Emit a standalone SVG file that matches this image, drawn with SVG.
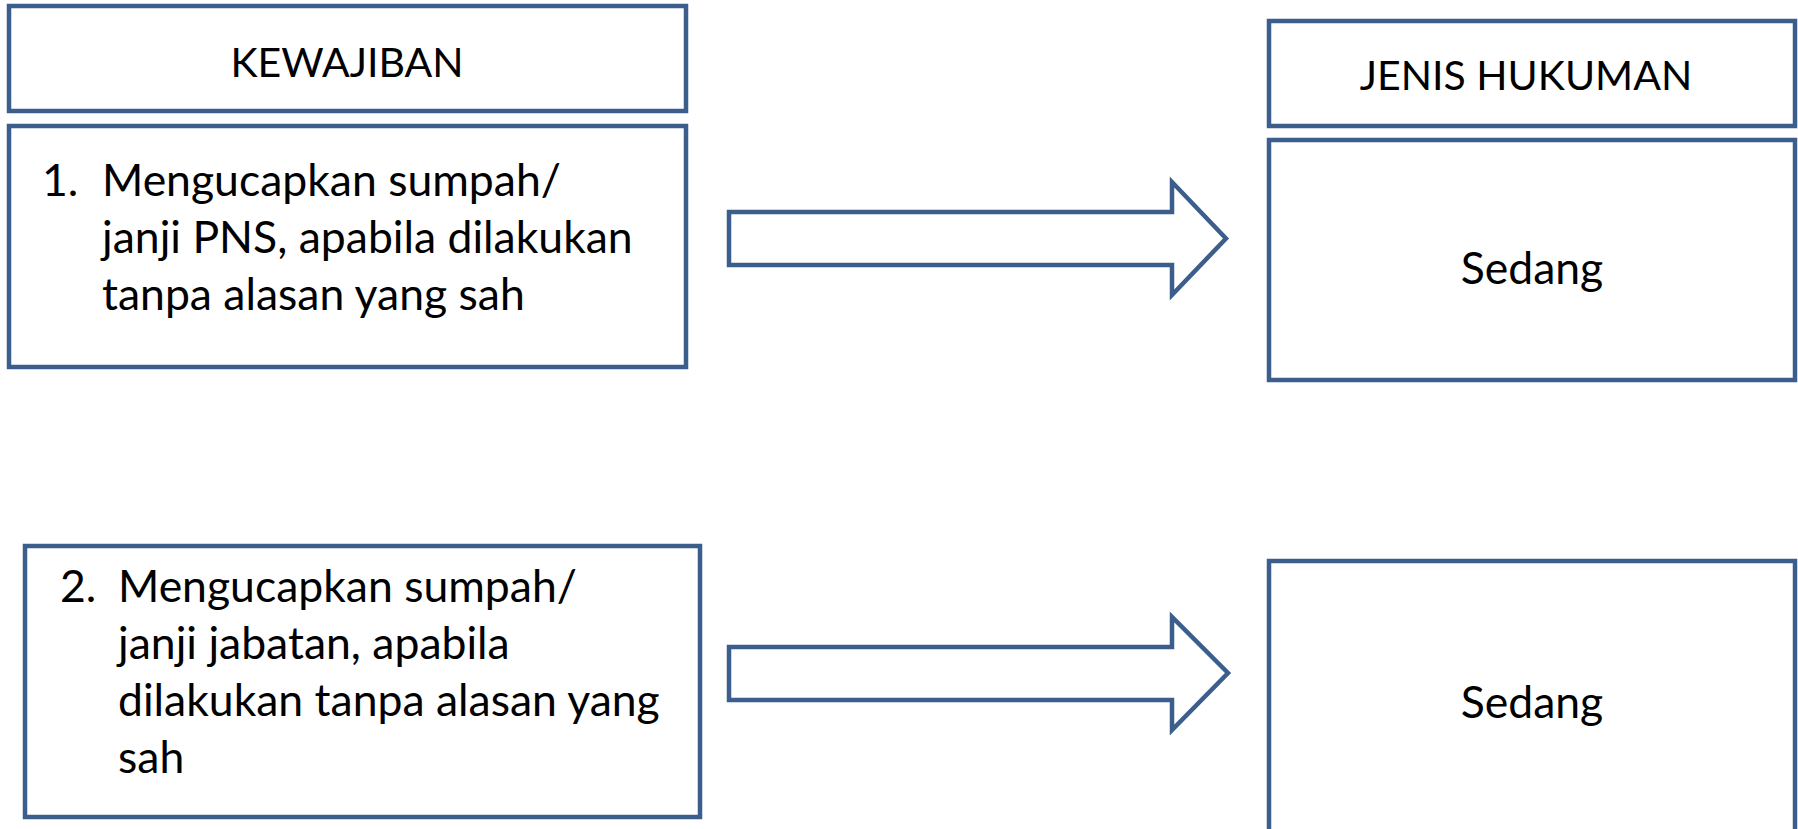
<svg xmlns="http://www.w3.org/2000/svg" width="1798" height="829" viewBox="0 0 1798 829">
<style>
.box{fill:#fff;stroke:#3B5E8C;stroke-width:4.5}
.arr{fill:#fff;stroke:#3B5E8C;stroke-width:4.5;stroke-linejoin:miter}
text{font-family:Lato,"Open Sans",sans-serif;font-size:44.5px;fill:#000}
.c{text-anchor:middle}
.t{font-size:41px}
</style>
<rect width="1798" height="829" fill="#fff"/>
<g id="kewajiban">
<rect class="box" x="9" y="6" width="677" height="105"/>
<text class="c t" x="347" y="77">KEWAJIBAN</text>
</g>
<g id="kewajiban1">
<rect class="box" x="9" y="126" width="677" height="241"/>
<text x="42" y="196">1.</text>
<text x="102" y="196">Mengucapkan sumpah/</text>
<text x="102" y="253">janji PNS, apabila dilakukan</text>
<text x="102" y="310">tanpa alasan yang sah</text>
</g>
<g id="kewajiban2">
<rect class="box" x="25" y="546" width="675" height="271"/>
<text x="60" y="602">2.</text>
<text x="118" y="602">Mengucapkan sumpah/</text>
<text x="118" y="659">janji jabatan, apabila</text>
<text x="118" y="716">dilakukan tanpa alasan yang</text>
<text x="118" y="773">sah</text>
</g>
<g id="jenis">
<rect class="box" x="1269" y="21" width="526" height="105"/>
<text class="c t" x="1526" y="90">JENIS HUKUMAN</text>
</g>
<g id="sedang1">
<rect class="box" x="1269" y="140" width="526" height="240"/>
<text class="c" x="1532" y="284">Sedang</text>
</g>
<g id="sedang2">
<rect class="box" x="1269" y="561" width="526" height="280"/>
<text class="c" x="1532" y="718">Sedang</text>
</g>
<g id="connectors">
<polygon class="arr" points="729,212 1172,212 1172,182 1226,238.5 1172,295 1172,265 729,265"/>
<polygon class="arr" points="729,647 1172,647 1172,617 1228,673 1172,730 1172,700 729,700"/>
</g>
</svg>
